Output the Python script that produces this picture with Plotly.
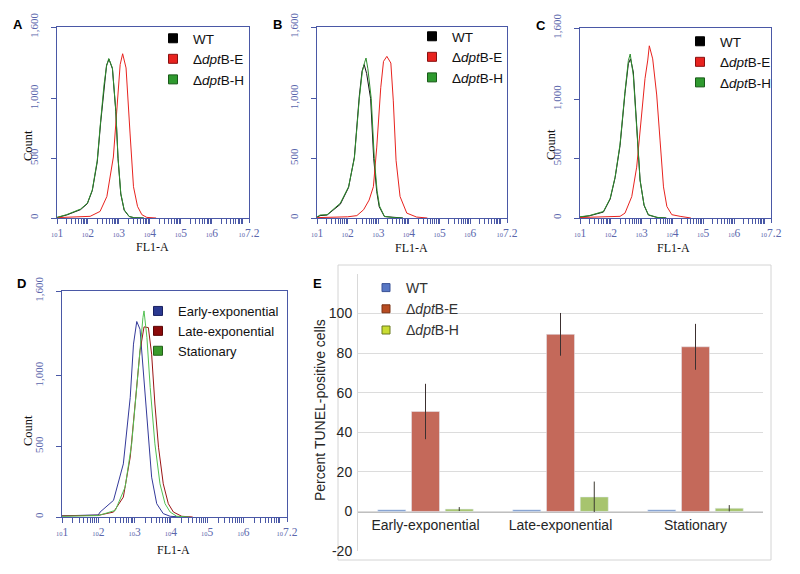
import numpy as np
import plotly.graph_objects as go

# ---------------- DATA ----------------
# Flow cytometry histograms: positions as log10(FL1-A), values = Count
# Panel A
A_wt_log = [1.0, 1.31, 1.76, 1.98, 2.14, 2.30, 2.41, 2.52, 2.60, 2.68, 2.79, 2.90, 2.97, 3.06, 3.17, 3.33, 3.49, 3.8]
A_wt = [4, 25, 70, 120, 230, 470, 800, 1110, 1280, 1330, 1250, 890, 500, 200, 65, 12, 2, 0]
A_h_log = [1.0, 1.31, 1.76, 1.98, 2.14, 2.30, 2.41, 2.52, 2.60, 2.67, 2.79, 2.90, 2.97, 3.06, 3.17, 3.33, 3.49, 3.8]
A_h = [5, 28, 75, 124, 235, 483, 815, 1119, 1271, 1336, 1257, 898, 511, 207, 69, 14, 2, 0]
A_e_log = [1.0, 1.5, 2.07, 2.39, 2.61, 2.82, 2.95, 3.04, 3.12, 3.23, 3.36, 3.47, 3.60, 3.74, 3.90, 4.2]
A_e = [3, 8, 14, 55, 180, 511, 981, 1285, 1376, 1257, 704, 262, 97, 28, 5, 0]

# Panel B
B_wt_log = [1.0, 1.1, 1.33, 1.76, 2.03, 2.22, 2.38, 2.47, 2.54, 2.62, 2.75, 2.85, 2.95, 3.03, 3.2, 3.5, 3.8]
B_wt = [6, 20, 25, 115, 255, 510, 1020, 1230, 1285, 1210, 1000, 500, 220, 95, 12, 3, 0]
B_h_log = [1.0, 1.1, 1.33, 1.76, 2.03, 2.22, 2.38, 2.48, 2.55, 2.60, 2.66, 2.77, 2.87, 2.96, 3.04, 3.2, 3.5, 3.8]
B_h = [8, 25, 28, 124, 262, 500, 1000, 1230, 1300, 1340, 1250, 1000, 500, 230, 100, 14, 3, 0]
B_e_log = [1.0, 1.5, 2.0, 2.3, 2.52, 2.7, 2.84, 2.95, 3.08, 3.17, 3.28, 3.41, 3.49, 3.58, 3.71, 3.93, 4.25, 4.6]
B_e = [3, 6, 10, 20, 69, 150, 262, 594, 1091, 1312, 1354, 1298, 981, 483, 180, 41, 8, 0]

# Panel C
C_wt_log = [1.0, 1.3, 1.76, 1.98, 2.14, 2.30, 2.46, 2.57, 2.64, 2.73, 2.84, 2.95, 3.08, 3.22, 3.5, 3.8]
C_wt = [8, 18, 50, 160, 340, 610, 1050, 1300, 1340, 1230, 780, 320, 105, 25, 5, 0]
C_h_log = [1.0, 1.3, 1.76, 1.98, 2.14, 2.30, 2.46, 2.57, 2.63, 2.73, 2.84, 2.95, 3.08, 3.22, 3.5, 3.8]
C_h = [10, 20, 55, 166, 345, 622, 1064, 1326, 1381, 1202, 760, 318, 110, 28, 5, 0]
C_e_log = [1.0, 1.5, 2.0, 2.30, 2.46, 2.68, 2.84, 3.0, 3.11, 3.2, 3.25, 3.36, 3.49, 3.60, 3.71, 3.82, 3.98, 4.25, 4.6]
C_e = [4, 8, 10, 14, 41, 180, 428, 898, 1174, 1330, 1450, 1340, 1036, 649, 262, 97, 28, 14, 0]

# Panel D
D_early_log = [1.0, 1.5, 2.0, 2.05, 2.42, 2.69, 2.88, 2.97, 3.06, 3.15, 3.24, 3.38, 3.47, 3.61, 3.79, 3.98, 4.3]
D_early = [8, 12, 15, 35, 118, 376, 847, 1224, 1384, 1329, 1035, 518, 282, 94, 24, 5, 0]
D_late_log = [1.0, 1.5, 2.0, 2.42, 2.69, 2.88, 3.01, 3.15, 3.26, 3.38, 3.47, 3.56, 3.66, 3.79, 3.93, 4.07, 4.30, 4.6]
D_late = [8, 10, 12, 35, 141, 424, 800, 1176, 1346, 1341, 1153, 800, 494, 235, 94, 35, 5, 0]
D_stat_log = [1.0, 1.5, 2.0, 2.47, 2.74, 2.92, 3.06, 3.15, 3.23, 3.26, 3.34, 3.43, 3.56, 3.70, 3.84, 3.98, 4.16, 4.5]
D_stat = [5, 8, 10, 47, 212, 518, 918, 1212, 1412, 1459, 1271, 918, 518, 235, 94, 35, 5, 0]

# Axis ticks for flow panels
x_exps = ["1", "2", "3", "4", "5", "6", "7.2"]
y_tickvals = [0, 500, 1000, 1600]
y_ticktext = ["0", "500", "1,000", "1,600"]

# Panel E: TUNEL bar chart
phases = ["Early-exponential", "Late-exponential", "Stationary"]
E_wt = [0.8, 0.8, 0.8]
E_e = [50.5, 89.5, 83.2]
E_e_err = [14.0, 10.8, 11.6]
E_h = [1.2, 7.3, 1.6]
E_h_err = [1.0, 7.8, 1.6]

# ---------------- FIGURE ----------------
SANS = "Liberation Sans, Arial, sans-serif"
SERIF = "Liberation Serif, Times New Roman, serif"
AX_BLUE = "#4a58a6"
LBL_BLUE = "#5a66ac"
W, H = 800, 574

def px2x(p):
    return p / W

def px2y(p):
    return 1 - p / H

fig = go.Figure()

def add_curve(logs, counts, color, ax):
    fig.add_trace(go.Scatter(
        x=np.power(10.0, np.array(logs)), y=counts, mode="lines",
        line=dict(color=color, width=1), xaxis="x" + ax, yaxis="y" + ax,
        showlegend=False, hoverinfo="skip"))

def add_legend_item(name, color, border, legend, ax, size=9):
    fig.add_trace(go.Scatter(
        x=[None], y=[None], mode="markers", name=name,
        marker=dict(symbol="square", size=size, color=color, line=dict(color=border, width=1)),
        xaxis="x" + ax, yaxis="y" + ax, legend=legend, showlegend=True))

BLACK, RED, GREEN = "#111111", "#e8231f", "#2f8f2f"

# A
add_curve(A_wt_log, A_wt, BLACK, "")
add_curve(A_e_log, A_e, RED, "")
add_curve(A_h_log, A_h, GREEN, "")
# B
add_curve(B_wt_log, B_wt, BLACK, "2")
add_curve(B_e_log, B_e, RED, "2")
add_curve(B_h_log, B_h, GREEN, "2")
# C
add_curve(C_wt_log, C_wt, BLACK, "3")
add_curve(C_e_log, C_e, RED, "3")
add_curve(C_h_log, C_h, GREEN, "3")
# D
add_curve(D_early_log, D_early, "#33399a", "4")
add_curve(D_late_log, D_late, "#9a1414", "4")
add_curve(D_stat_log, D_stat, "#52c052", "4")

# legends A-C
for lg, ax in [("legend", ""), ("legend2", "2"), ("legend3", "3")]:
    add_legend_item("WT", "#000000", "#000000", lg, ax)
    add_legend_item("Δ<i>dpt</i>B-E", "#e8231f", "#8a1010", lg, ax)
    add_legend_item("Δ<i>dpt</i>B-H", "#2f9a2f", "#1a5a1a", lg, ax)
# legend D
add_legend_item("Early-exponential", "#2b3990", "#1a2060", "legend4", "4")
add_legend_item("Late-exponential", "#8b0a0a", "#5a0505", "legend4", "4")
add_legend_item("Stationary", "#3a9a2a", "#236018", "legend4", "4")

# E bars
fig.add_trace(go.Bar(x=phases, y=E_wt, marker=dict(color="#7393cc"), xaxis="x5", yaxis="y5",
                     showlegend=False, hoverinfo="skip"))
fig.add_trace(go.Bar(x=phases, y=E_e, marker=dict(color="#c4695a"), xaxis="x5", yaxis="y5",
                     error_y=dict(type="data", array=E_e_err, color="#3c3030", thickness=1, width=0),
                     showlegend=False, hoverinfo="skip"))
fig.add_trace(go.Bar(x=phases, y=E_h, marker=dict(color="#a7c46e"), xaxis="x5", yaxis="y5",
                     error_y=dict(type="data", array=E_h_err, color="#3c3a30", thickness=1, width=0),
                     showlegend=False, hoverinfo="skip"))
add_legend_item("WT", "#5877c4", "#3a5296", "legend5", "5", size=8)
add_legend_item("Δ<i>dpt</i>B-E", "#b84c22", "#7a3012", "legend5", "5", size=8)
add_legend_item("Δ<i>dpt</i>B-H", "#c9dc32", "#6a7a1e", "legend5", "5", size=8)

# ---- axes ----
flow_panels = {
    "": ((57, 249), (27, 218)),
    "2": ((317, 507), (27, 218)),
    "3": ((580, 771), (28, 218)),
    "4": ((62, 287), (291, 517)),
}
x_tickvals = [10 ** float(e) for e in x_exps]
x_ticktext = ["<span style='font-size:6.5px'>10</span>" + e for e in x_exps]

layout_axes = {}
for ax, ((x0, x1), (y0, y1)) in flow_panels.items():
    xa = "xaxis" + ax
    ya = "yaxis" + ax
    layout_axes[xa] = dict(
        type="log", range=[1, 7.2], domain=[px2x(x0), px2x(x1)], anchor="y" + ax,
        automargin=False,
        showline=True, linecolor=AX_BLUE, linewidth=1, mirror=True,
        ticks="outside", ticklen=4, tickcolor=AX_BLUE, tickwidth=1,
        tickmode="array", tickvals=x_tickvals, ticktext=x_ticktext,
        tickfont=dict(family=SERIF, size=11.5, color=LBL_BLUE), ticklabelstandoff=0,
        minor=dict(ticks="outside", ticklen=5, tickcolor=AX_BLUE, dtick="D1", showgrid=False),
        showgrid=False, zeroline=False, fixedrange=True,
    )
    layout_axes[ya] = dict(
        range=[0, 1600], domain=[px2y(y1), px2y(y0)], anchor="x" + ax,
        automargin=False,
        showline=True, linecolor=AX_BLUE, linewidth=1, mirror=True,
        ticks="outside", ticklen=5, tickcolor=AX_BLUE,
        tickmode="array", tickvals=y_tickvals, ticktext=y_ticktext, tickangle=-90,
        tickfont=dict(family=SERIF, size=11, color=LBL_BLUE), ticklabelstandoff=9,
        showgrid=False, zeroline=False, fixedrange=True,
    )

# E axes
E_x0, E_x1, E_y0, E_y1 = 358, 763, 274, 551
layout_axes["xaxis5"] = dict(
    domain=[px2x(E_x0), px2x(E_x1)], anchor="free", position=px2y(511.7), automargin=False,
    showline=True, linecolor="#bfbfbf", linewidth=1, ticks="",
    tickfont=dict(family=SANS, size=14, color="#262626"), showgrid=False, fixedrange=True,
)
layout_axes["yaxis5"] = dict(
    domain=[px2y(E_y1), px2y(E_y0)], anchor="x5", range=[-20, 120], automargin=False,
    tickvals=[-20, 0, 20, 40, 60, 80, 100, 120], ticktext=["-20", "0", "20", "40", "60", "80", "100", ""],
    showline=True, linecolor="#d9d9d9",
    showgrid=True, gridcolor="#dcdcdc", gridwidth=1, zeroline=False,
    tickfont=dict(family=SANS, size=14, color="#262626"), ticks="", ticklabelstandoff=2,
    fixedrange=True,
)

legend_common = dict(bgcolor="rgba(0,0,0,0)", borderwidth=0, xanchor="left", yanchor="top",
                     font=dict(family=SANS, size=13.5, color="#111111"), tracegroupgap=0,
                     itemclick=False, itemdoubleclick=False)

def legend_at(sq_x, row1_y, **kw):
    d = dict(legend_common)
    d.update(x=px2x(sq_x - 24), y=px2y(row1_y - 16))
    d.update(kw)
    return d

def note(text, x, y, font, angle=0):
    return dict(text=text, x=px2x(x), y=px2y(y), xref="paper", yref="paper",
                xanchor="center", yanchor="middle", showarrow=False, textangle=angle, font=font)

annotations = []
for txt, x, y in [("A", 18, 25), ("B", 277, 25), ("C", 541, 26), ("D", 21, 284), ("E", 317, 284)]:
    annotations.append(note("<b>%s</b>" % txt, x, y, dict(family=SANS, size=13, color="#000")))
for x, y in [(28, 146), (551, 145), (28, 431)]:
    annotations.append(note("Count", x, y, dict(family=SERIF, size=12.5, color="#111"), angle=-90))
for x, y in [(152, 247), (411, 248), (673, 248), (173, 550)]:
    annotations.append(note("FL1-A", x, y, dict(family=SERIF, size=12, color="#111")))
annotations.append(note("Percent TUNEL-positive cells", 320, 410,
                        dict(family=SANS, size=14, color="#262626"), angle=-90))

fig.update_layout(
    width=W, height=H, margin=dict(l=0, r=0, t=0, b=0, pad=0, autoexpand=False),
    paper_bgcolor="white", plot_bgcolor="white",
    barmode="group", bargap=0.25, bargroupgap=0.17,
    legend=legend_at(177, 39),
    legend2=legend_at(436, 37),
    legend3=legend_at(704, 42),
    legend4=legend_at(162, 312, font=dict(family=SANS, size=13, color="#111111")),
    legend5=legend_at(390, 288, font=dict(family=SANS, size=14, color="#333333")),
    annotations=annotations,
    shapes=[dict(type="rect", xref="paper", yref="paper", x0=px2x(338), x1=px2x(771),
                 y0=px2y(560), y1=px2y(265), line=dict(color="#d4d4d4", width=1), layer="below")],
    showlegend=True,
    **layout_axes,
)

fig.write_html("out.html", config={"displayModeBar": False},
               post_script="document.body.style.margin='0px';")
